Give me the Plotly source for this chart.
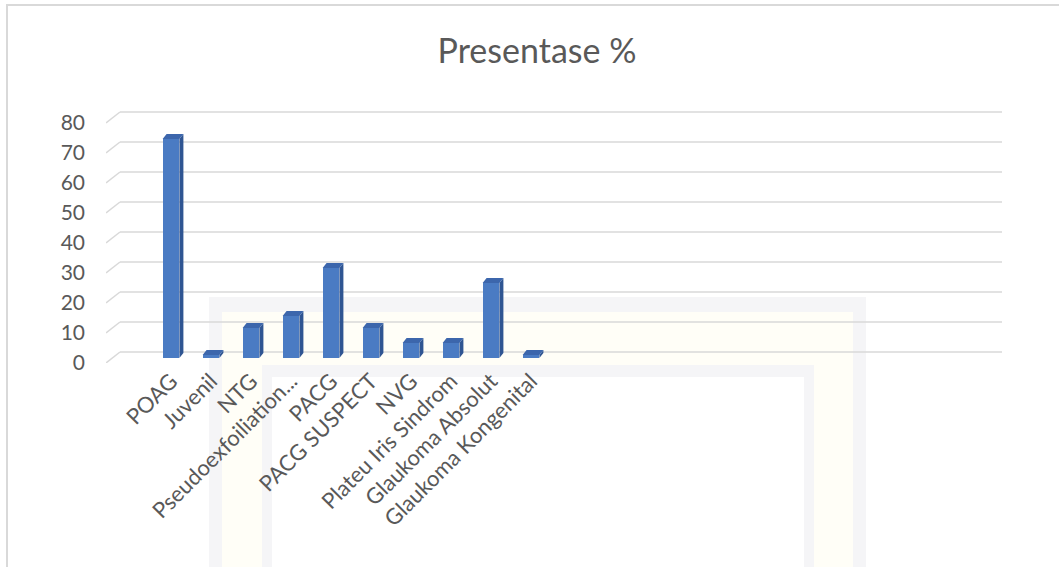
import plotly.graph_objects as go

categories = ["POAG", "Juvenil", "NTG", "Pseudoexfoiliation...", "PACG",
              "PACG SUSPECT", "NVG", "Plateu Iris Sindrom", "Glaukoma Absolut",
              "Glaukoma Kongenital"]
values = [73, 1, 10, 14, 30, 10, 5, 5, 25, 1]
y_ticks = [0, 10, 20, 30, 40, 50, 60, 70, 80]
title_text = "Presentase %"

W, H = 1059, 567
L, R, T, B = 106, 57, 100, 204
PW, PH = W - L - R, H - T - B
px_per_cat = 40.0
px_per_unit = 3.0
first_center_px = 171
x_lo = (L - first_center_px) / px_per_cat
x_hi = x_lo + PW / px_per_cat
y_lo = -(H - B - 358) / px_per_unit
y_hi = y_lo + PH / px_per_unit

bar_w = 0.42
depth_x = 4 / px_per_cat
depth_y = 5 / px_per_unit
grid_off = 6 / px_per_unit
front_off = 5 / px_per_unit
grid_x0 = (120 - first_center_px) / px_per_cat

xs = list(range(len(categories)))

fig = go.Figure()

# front faces
fig.add_trace(go.Bar(x=xs, y=values, width=bar_w, marker=dict(color="#4A7BC3", line=dict(width=0)),
                     hoverinfo="skip", showlegend=False, cliponaxis=False))

# side and top faces
side_x, side_y, top_x, top_y = [], [], [], []
for i, v in zip(xs, values):
    xr = i + bar_w / 2
    xl = i - bar_w / 2
    side_x += [xr, xr + depth_x, xr + depth_x, xr, xr, None]
    side_y += [0, depth_y, v + depth_y, v, 0, None]
    top_x += [xl, xr, xr + depth_x, xl + depth_x, xl, None]
    top_y += [v, v, v + depth_y, v + depth_y, v, None]
fig.add_trace(go.Scatter(x=side_x, y=side_y, mode="lines", fill="toself", fillcolor="#2F5592",
                         line=dict(width=0, color="#2F5592"), hoverinfo="skip", showlegend=False))
fig.add_trace(go.Scatter(x=top_x, y=top_y, mode="lines", fill="toself", fillcolor="#3C66AC",
                         line=dict(width=0, color="#3C66AC"), hoverinfo="skip", showlegend=False))

shapes = []
def px2paper_x(px):
    return (px - L) / PW
def px2paper_y(py):
    return (H - B - py) / PH

# faint watermark frames
for (x0, y0, x1, col) in [(209, 297, 866, "#F5F5F7"), (222, 312, 853, "#FFFEF7"),
                          (262, 365, 814, "#F5F5F7"), (272, 377, 804, "#FFFFFF")]:
    shapes.append(dict(type="rect", xref="paper", yref="paper", x0=px2paper_x(x0), x1=px2paper_x(x1),
                       y0=px2paper_y(y0), y1=px2paper_y(H + 5), fillcolor=col, line=dict(width=0),
                       layer="below"))

# chart border
shapes.append(dict(type="rect", xref="paper", yref="paper", x0=px2paper_x(7), x1=px2paper_x(W + 10),
                   y0=px2paper_y(H + 10), y1=px2paper_y(5), line=dict(color="#D9D9D9", width=2),
                   fillcolor="rgba(0,0,0,0)", layer="below"))

# back-wall gridlines and floor slants
for t in y_ticks:
    shapes.append(dict(type="line", xref="x", yref="y", x0=grid_x0, x1=x_hi, y0=t + grid_off, y1=t + grid_off,
                       line=dict(color="#D9D9D9", width=1.5), layer="below"))
    shapes.append(dict(type="line", xref="x", yref="y", x0=x_lo, x1=grid_x0, y0=t - front_off, y1=t + grid_off,
                       line=dict(color="#D9D9D9", width=1.5), layer="below"))

fig.update_layout(
    width=W, height=H,
    margin=dict(l=L, r=R, t=T, b=B),
    paper_bgcolor="white", plot_bgcolor="rgba(0,0,0,0)",
    title=dict(text=title_text, x=537 / W, xanchor="center", y=1 - 51 / H, yanchor="middle",
               font=dict(family="Lato", size=34, color="#595959")),
    shapes=shapes,
    bargap=0,
    font=dict(family="Lato", color="#595959"),
)
fig.update_xaxes(range=[x_lo, x_hi], tickmode="array", tickvals=xs, ticktext=categories,
                 tickangle=-45, showgrid=False, zeroline=False, showline=False, ticks="",
                 ticklabelstandoff=0,
                 tickfont=dict(family="Lato", size=22, color="#595959"))
fig.update_yaxes(range=[y_lo, y_hi], tickmode="array", tickvals=[t - front_off for t in y_ticks],
                 ticktext=[str(t) for t in y_ticks], showgrid=False, zeroline=False, showline=False,
                 ticks="", ticklabelstandoff=20, tickfont=dict(family="Lato", size=21, color="#595959"))

fig.write_html("out.html")
